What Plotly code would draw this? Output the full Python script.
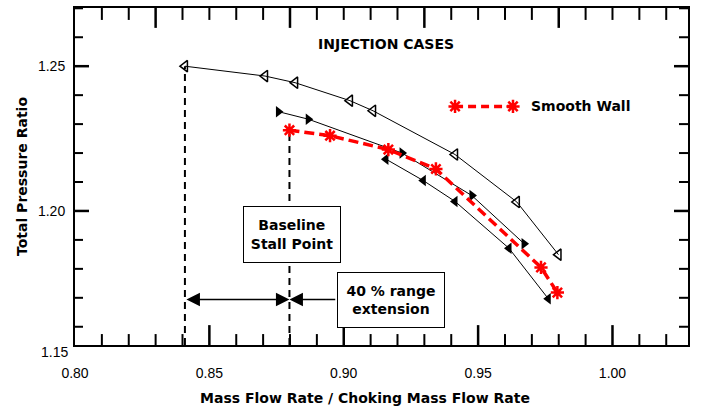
import plotly.graph_objects as go

# ---- data ----
open_x = [0.8409, 0.8707, 0.8819, 0.9023, 0.9109, 0.9414, 0.9644, 0.9799]
open_y = [1.2500, 1.2466, 1.2443, 1.2381, 1.2346, 1.2195, 1.2031, 1.1849]

fill_r_x = [0.8757, 0.8868, 0.9217, 0.9477, 0.9671]
fill_r_y = [1.2343, 1.2317, 1.2200, 1.2053, 1.1887]

fill_l_x = [0.9157, 0.9296, 0.9414, 0.9615, 0.9761]
fill_l_y = [1.2179, 1.2105, 1.2033, 1.1871, 1.1697]

smooth_x = [0.8798, 0.8949, 0.9166, 0.9343, 0.9734, 0.9795]
smooth_y = [1.2279, 1.2260, 1.2212, 1.2145, 1.1805, 1.1718]

# tick values
x_major_bottom = [0.80, 0.85, 0.90, 0.95, 1.00]
x_minor = [round(0.80 + 0.01 * i, 2) for i in range(1, 23)]
x_major_top = [0.83, 0.88, 0.93, 0.98]
y_major = [1.20, 1.25]
y_minor = [round(1.16 + 0.01 * i, 2) for i in range(0, 12)]

x_range = [0.80, 1.0281]
y_range = [1.1537, 1.2701]
arrow_y = 1.1694
range_box_left_x = 0.8974

legend_fx = [0.62, 0.7145]
legend_fy = 0.708

W, H = 702, 408
M = dict(l=75, r=14, t=6, b=63)
PW = W - M["l"] - M["r"]
PH = H - M["t"] - M["b"]
DX = (x_range[1] - x_range[0]) / PW   # data units per pixel
DY = (y_range[1] - y_range[0]) / PH

FONT = "Liberation Sans, Arial, Helvetica, sans-serif"
BOLD_FONT = "DejaVu Sans, Liberation Sans, sans-serif"
BLACK = "#000000"
RED = "#ff0000"


def fx(f):
    return x_range[0] + f * (x_range[1] - x_range[0])


def fy(f):
    return y_range[0] + f * (y_range[1] - y_range[0])


fig = go.Figure()

# vertical dashed lines (extended stall and baseline stall)
for sx, sy in [(open_x[0], open_y[0]), (smooth_x[0], smooth_y[0])]:
    fig.add_shape(type="line", xref="x", yref="y", x0=sx, x1=sx, y0=y_range[0], y1=sy,
                  line=dict(color=BLACK, width=2, dash="7px,5px"), layer="below")


# tick marks drawn as line traces (length in pixels converted to data units)
def tick_trace(segs, width):
    xs, ys = [], []
    for (x0, y0, x1, y1) in segs:
        xs += [x0, x1, None]
        ys += [y0, y1, None]
    fig.add_trace(go.Scatter(x=xs, y=ys, mode="lines",
                             line=dict(color=BLACK, width=width),
                             showlegend=False, hoverinfo="skip"))


yb, yt = y_range
xl, xr = x_range
minor_segs, major_segs = [], []
for v in x_minor:
    if v not in x_major_bottom:
        minor_segs.append((v, yb, v, yb + 11 * DY))
    if v in x_major_top:
        major_segs.append((v, yt, v, yt - 20 * DY))
    else:
        minor_segs.append((v, yt, v, yt - 12 * DY))
for v in x_major_bottom:
    if v > xl:
        major_segs.append((v, yb, v, yb + 20 * DY))
for v in y_minor:
    if v not in y_major:
        minor_segs.append((xl, v, xl + 8 * DX, v))
        minor_segs.append((xr, v, xr - 9 * DX, v))
for v in y_major:
    major_segs.append((xl, v, xl + 14 * DX, v))
    major_segs.append((xr, v, xr - 14 * DX, v))
tick_trace(minor_segs, 2)
tick_trace(major_segs, 2.5)

fig.add_trace(go.Scatter(x=open_x, y=open_y, mode="lines+markers",
                         line=dict(color=BLACK, width=1),
                         marker=dict(symbol="triangle-left-open", size=10, color=BLACK,
                                     line=dict(width=1.5, color=BLACK)),
                         showlegend=False))
fig.add_trace(go.Scatter(x=fill_r_x, y=fill_r_y, mode="lines+markers",
                         line=dict(color=BLACK, width=1),
                         marker=dict(symbol="triangle-right", size=10, color=BLACK),
                         showlegend=False))
fig.add_trace(go.Scatter(x=fill_l_x, y=fill_l_y, mode="lines+markers",
                         line=dict(color=BLACK, width=1),
                         marker=dict(symbol="triangle-left", size=10, color=BLACK),
                         showlegend=False))
fig.add_trace(go.Scatter(x=smooth_x, y=smooth_y, mode="lines+markers",
                         line=dict(color=RED, width=3.5, dash="10px,5px"),
                         marker=dict(symbol="asterisk-open", size=11,
                                     line=dict(width=2.5, color=RED)),
                         showlegend=False))

# legend sample
fig.add_trace(go.Scatter(x=[fx(legend_fx[0]), fx(legend_fx[1])],
                         y=[fy(legend_fy), fy(legend_fy)], mode="lines+markers",
                         line=dict(color=RED, width=3.5, dash="8px,5px"),
                         marker=dict(symbol="asterisk-open", size=11,
                                     line=dict(width=2.5, color=RED)),
                         showlegend=False, hoverinfo="skip"))

ann_font = dict(family=BOLD_FONT, size=14, color=BLACK, weight="bold")

annotations = [
    dict(text="INJECTION CASES", xref="paper", yref="paper", x=0.507, y=0.894,
         xanchor="center", yanchor="middle", showarrow=False, font=ann_font),
    dict(text="Smooth Wall", xref="paper", yref="paper", x=0.740, y=legend_fy,
         xanchor="left", yanchor="middle", showarrow=False, font=ann_font),
    dict(text="Baseline<br>Stall Point", xref="x", yref="y", x=0.8807, y=1.1920,
         showarrow=False, font=ann_font, bgcolor="white", bordercolor=BLACK,
         borderwidth=1, borderpad=1, width=94, height=53),
    dict(text="40 % range<br>extension", xref="x", yref="y", x=0.9176, y=1.1693,
         showarrow=False, font=ann_font, bgcolor="white", bordercolor=BLACK,
         borderwidth=1, borderpad=1, width=104, height=52),
    dict(text="", xref="x", yref="y", x=smooth_x[0], y=arrow_y,
         axref="x", ayref="y", ax=open_x[0], ay=arrow_y,
         showarrow=True, arrowhead=2, arrowside="end+start", arrowsize=1.8,
         arrowwidth=1.5, arrowcolor=BLACK, standoff=0, startstandoff=0),
    dict(text="", xref="x", yref="y", x=smooth_x[0], y=arrow_y,
         axref="x", ayref="y", ax=range_box_left_x, ay=arrow_y,
         showarrow=True, arrowhead=2, arrowsize=1.8,
         arrowwidth=1.5, arrowcolor=BLACK, standoff=0),
    dict(text="1.15", xref="paper", yref="paper", x=0, y=0, xanchor="right",
         yanchor="middle", xshift=-5, yshift=-7, showarrow=False,
         font=dict(family=FONT, size=14, color=BLACK)),
    dict(text="Mass Flow Rate / Choking Mass Flow Rate", xref="paper", yref="paper",
         x=0.473, y=-0.156, xanchor="center", yanchor="middle", showarrow=False,
         font=ann_font),
]

tick_font = dict(family=FONT, size=14, color=BLACK)

fig.update_layout(
    width=W, height=H,
    margin=M,
    paper_bgcolor="white", plot_bgcolor="white",
    font=dict(family=FONT, color=BLACK),
    showlegend=False,
    annotations=annotations,
)
fig.update_xaxes(range=x_range, tickvals=x_major_bottom, tickformat=".2f",
                 ticks="", showline=True, linecolor=BLACK, linewidth=2, mirror=True,
                 showgrid=False, zeroline=False, tickfont=tick_font,
                 ticklabelstandoff=14)
fig.update_yaxes(range=y_range, tickvals=y_major, tickformat=".2f",
                 ticks="", showline=True, linecolor=BLACK, linewidth=2, mirror=True,
                 showgrid=False, zeroline=False, tickfont=tick_font,
                 ticklabelstandoff=5,
                 title=dict(text="Total Pressure Ratio",
                            font=dict(family=BOLD_FONT, size=14, color=BLACK, weight="bold"),
                            standoff=7))

fig.write_html("out.html")
